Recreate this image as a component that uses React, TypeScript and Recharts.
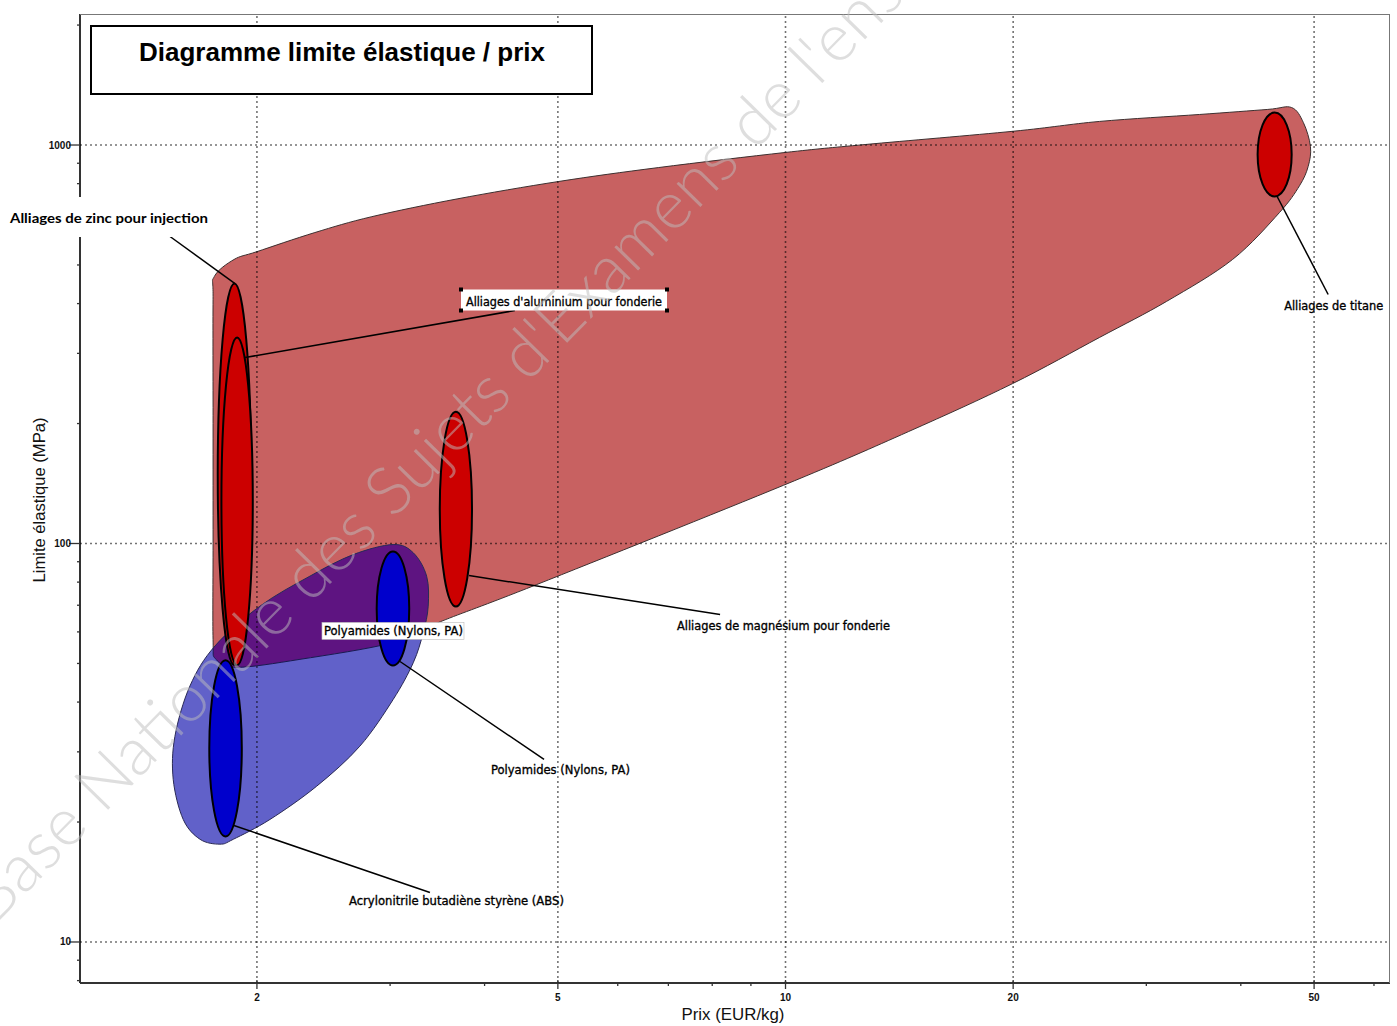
import React from "react";
import { ComposedChart, Scatter, XAxis, YAxis } from "recharts";

const W = 1397;
const H = 1026;

// axes (log-log)
const PRICE_DOMAIN = [1.167, 63];
const YIELD_DOMAIN = [7.89, 2132];
const PRICE_TICKS = [2, 3, 4, 5, 6, 7, 8, 9, 10, 20, 30, 40, 50, 60];
const PRICE_LABELED = [2, 5, 10, 20, 50];
const YIELD_TICKS = [
  8, 9, 10, 20, 30, 40, 50, 60, 70, 80, 90, 100, 200, 300, 400, 500, 600, 700, 800, 900, 1000, 2000,
];
const YIELD_LABELED = [10, 100, 1000];

// family envelopes (outline)
const METAL_PRICE = [
  1.75, 1.75, 1.75, 1.75, 1.757, 1.865, 2.0, 2.386, 2.838, 3.688, 5.013, 6.797, 10.0, 12.76, 20.03, 26.02,
  35.28, 43.35, 46.68, 48.4, 49.45, 49.1, 47.82, 45.0, 39.0, 31.9, 26.02, 19.97, 14.55, 9.94, 4.69, 3.5,
  3.025, 2.28, 1.883, 1.766,
];
const METAL_YIELD = [
  57.4, 100, 200, 410, 468, 516, 540, 603, 661, 733, 810, 878, 958, 1003, 1083, 1146, 1193, 1228, 1242,
  1138, 991, 883, 790, 677, 516, 405, 329, 252, 191, 140, 78.9, 63.7, 56.4, 51.2, 48.9, 51.2,
];
const POLYMER_PRICE = [
  3.028, 3.219, 3.353, 3.369, 3.318, 3.219, 3.028, 2.736, 2.399, 2.081, 1.861, 1.787, 1.682, 1.598, 1.55,
  1.558, 1.631, 1.76, 2.018, 2.35, 2.682,
];
const POLYMER_YIELD = [
  99.4, 94.8, 82.8, 69.6, 59.7, 50.2, 40.6, 31.0, 24.6, 20.3, 18.1, 17.6, 18.1, 20.3, 25.6, 32.8, 43.9,
  55.3, 69.6, 82.8, 93.8,
];

// material bubbles: price range (EUR/kg) and yield strength range (MPa)
const MATERIALS = [
  "Alliages de zinc pour injection",
  "Alliages d'aluminium pour fonderie",
  "Alliages de magnésium pour fonderie",
  "Alliages de titane",
  "Polyamides (Nylons, PA)",
  "Acrylonitrile butadiène styrène (ABS)",
];
const MAT_FAMILY = ["metal", "metal", "metal", "metal", "polymer", "polymer"];
const MAT_PRICE_MIN = [1.775, 1.795, 3.49, 42.1, 2.88, 1.73];
const MAT_PRICE_MAX = [1.965, 1.975, 3.85, 46.7, 3.18, 1.91];
const MAT_YIELD_MIN = [49.5, 49.5, 69.5, 743, 49.4, 18.4];
const MAT_YIELD_MAX = [449, 329, 214, 1206, 95.5, 50.9];

// leader lines: label end -> bubble end
const LEADER_PRICE_A = [1.535, 4.387, 52.19, 8.193, 4.794, 3.387];
const LEADER_YIELD_A = [589.4, 384.3, 421.6, 66.35, 28.71, 13.31];
const LEADER_PRICE_B = [1.871, 1.929, 44.68, 3.815, 3.092, 1.865];
const LEADER_YIELD_B = [449, 292.9, 742.7, 83.1, 50.57, 19.6];

// labels inside the plot (text start, baseline)
const LABEL_TEXT = [
  "Alliages d'aluminium pour fonderie",
  "Alliages de titane",
  "Alliages de magnésium pour fonderie",
  "Polyamides (Nylons, PA)",
  "Polyamides (Nylons, PA)",
  "Acrylonitrile butadiène styrène (ABS)",
];
const LABEL_PRICE = [3.78, 45.64, 7.186, 2.453, 4.078, 2.647];
const LABEL_YIELD = [395.6, 386.5, 60.5, 58.8, 26.33, 12.35];

const GRID_PRICE = [2, 5, 10, 20, 50];
const GRID_YIELD = [10, 100, 1000];

const LABEL_STYLE = [
  { w: 196, box: "handles" },
  { w: 99, box: "" },
  { w: 213, box: "" },
  { w: 139, box: "plain" },
  { w: 139, box: "" },
  { w: 215, box: "" },
];

const RED_ENV = "#c86161";
const BLUE_ENV = "#6161c9";
const PURPLE = "#5e1481";
const RED_BUBBLE = "#cc0000";
const BLUE_BUBBLE = "#0000cc";
const LABEL_FONT = "'DejaVu Sans', Verdana, sans-serif";
const AXIS_FONT = "'Liberation Sans', Arial, sans-serif";

type Pt = { x: number; y: number };

function smoothClosed(pts: Pt[]) {
  const n = pts.length;
  let d = `M${pts[0].x},${pts[0].y}`;
  for (let i = 0; i < n; i++) {
    const p0 = pts[(i - 1 + n) % n];
    const p1 = pts[i];
    const p2 = pts[(i + 1) % n];
    const p3 = pts[(i + 2) % n];
    const c1x = p1.x + (p2.x - p0.x) / 6;
    const c1y = p1.y + (p2.y - p0.y) / 6;
    const c2x = p2.x - (p3.x - p1.x) / 6;
    const c2y = p2.y - (p3.y - p1.y) / 6;
    d += ` C${c1x},${c1y} ${c2x},${c2y} ${p2.x},${p2.y}`;
  }
  return d + " Z";
}

const pairs = (xs: number[], ys: number[]) => xs.map((x, i) => ({ x, y: ys[i] }));

const metalData = pairs(METAL_PRICE, METAL_YIELD);
const polymerData = pairs(POLYMER_PRICE, POLYMER_YIELD);
const labelData = LABEL_TEXT.map((text, i) => ({ x: LABEL_PRICE[i], y: LABEL_YIELD[i], text, i }));

const noDot = () => <g />;

const XTick = (props: any) => {
  const { x, y, payload } = props;
  const major = PRICE_LABELED.includes(payload.value);
  return (
    <g>
      <line x1={x} x2={x} y1={y - (major ? 3 : 0)} y2={y + (major ? 6 : 3)} stroke="#333" strokeWidth={1.3} />
      {major && (
        <text x={x} y={y + 18} textAnchor="middle" fontSize={10} fontWeight="bold" fontFamily={AXIS_FONT} fill="#111">
          {payload.value}
        </text>
      )}
    </g>
  );
};

const YTick = (props: any) => {
  const { x, y, payload } = props;
  const major = YIELD_LABELED.includes(payload.value);
  return (
    <g>
      <line x1={x - (major ? 11 : 3)} x2={x} y1={y} y2={y} stroke="#333" strokeWidth={1.3} />
      {major && (
        <text x={x - 9} y={y + 3.5} textAnchor="end" fontSize={10} fontWeight="bold" fontFamily={AXIS_FONT} fill="#111">
          {payload.value}
        </text>
      )}
    </g>
  );
};

const LabelShape = (props: any) => {
  const { cx, cy, payload } = props;
  const s = LABEL_STYLE[payload.i];
  return (
    <g>
      {s.box === "handles" && (
        <g>
          <rect x={cx - 5} y={cy - 16} width={s.w + 10} height={21} fill="#fff" />
          {[
            [cx - 5, cy - 16],
            [cx + s.w + 5, cy - 16],
            [cx - 5, cy + 5],
            [cx + s.w + 5, cy + 5],
          ].map(([hx, hy], k) => (
            <rect key={k} x={hx - 2} y={hy - 2} width={4} height={4} fill="#000" />
          ))}
        </g>
      )}
      {s.box === "plain" && (
        <rect x={cx - 2} y={cy - 13} width={s.w + 3} height={17} fill="#fff" stroke="#bbb" strokeWidth={0.6} />
      )}
      <text
        x={cx}
        y={cy}
        fontSize={12}
        fontFamily={LABEL_FONT}
        fill="#000"
        stroke="#000"
        strokeWidth={0.35}
        textLength={s.w}
        lengthAdjust="spacingAndGlyphs"
      >
        {payload.text}
      </text>
    </g>
  );
};

const gridLine = (p: any) => (
  <line
    x1={p.points[0].x}
    y1={p.points[0].y}
    x2={p.points[1].x}
    y2={p.points[1].y}
    stroke="#000"
    strokeOpacity={0.55}
    strokeWidth={1.6}
    strokeDasharray="2 3"
  />
);

export default function App() {
  return (
    <div style={{ position: "absolute", left: 0, top: 0, width: W, height: H, background: "#fff", overflow: "hidden" }}>
      <ComposedChart width={W} height={H} margin={{ top: 14, right: 7, bottom: 0, left: 0 }}>
        <XAxis
          type="number"
          dataKey="x"
          scale="log"
          domain={PRICE_DOMAIN}
          allowDataOverflow
          ticks={PRICE_TICKS}
          interval={0}
          tickSize={0}
          tickMargin={0}
          tickLine={false}
          tick={<XTick />}
          axisLine={{ stroke: "#333", strokeWidth: 2 }}
          height={43}
        />
        <YAxis
          type="number"
          dataKey="y"
          scale="log"
          domain={YIELD_DOMAIN}
          allowDataOverflow
          ticks={YIELD_TICKS}
          interval={0}
          tickSize={0}
          tickMargin={0}
          tickLine={false}
          tick={<YTick />}
          axisLine={{ stroke: "#333", strokeWidth: 2 }}
          width={80}
        />

        {/* plot frame (top and right) */}
        <Scatter
          data={[
            { x: PRICE_DOMAIN[0], y: YIELD_DOMAIN[1] },
            { x: PRICE_DOMAIN[1], y: YIELD_DOMAIN[1] },
            { x: PRICE_DOMAIN[1], y: YIELD_DOMAIN[0] },
          ]}
          shape={noDot}
          isAnimationActive={false}
          line={(p: any) => (
            <polyline points={p.points.map((q: Pt) => `${q.x},${q.y}`).join(" ")} fill="none" stroke="#777" strokeWidth={2} />
          )}
        />

        {/* metals envelope */}
        <Scatter
          data={metalData}
          shape={noDot}
          isAnimationActive={false}
          line={(p: any) => {
            const d = smoothClosed(p.points);
            return (
              <g>
                <defs>
                  <path id="metal-env" d={d} />
                </defs>
                <path d={d} fill={RED_ENV} stroke="#3d3030" strokeWidth={1} />
              </g>
            );
          }}
        />

        {/* polymers envelope, purple where it overlaps the metals */}
        <Scatter
          data={polymerData}
          shape={noDot}
          isAnimationActive={false}
          line={(p: any) => {
            const d = smoothClosed(p.points);
            return (
              <g>
                <defs>
                  <clipPath id="poly-clip">
                    <path d={d} />
                  </clipPath>
                </defs>
                <path d={d} fill={BLUE_ENV} />
                <use href="#metal-env" fill={PURPLE} clipPath="url(#poly-clip)" />
                <use href="#metal-env" fill="none" stroke="#1a1a50" strokeWidth={1} clipPath="url(#poly-clip)" />
                <path d={d} fill="none" stroke="#2a2a55" strokeWidth={1} />
              </g>
            );
          }}
        />

        {/* dotted grid on major decades */}
        {GRID_PRICE.map((v) => (
          <Scatter
            key={`gx${v}`}
            data={[
              { x: v, y: YIELD_DOMAIN[0] },
              { x: v, y: YIELD_DOMAIN[1] },
            ]}
            shape={noDot}
            isAnimationActive={false}
            line={gridLine}
          />
        ))}
        {GRID_YIELD.map((v) => (
          <Scatter
            key={`gy${v}`}
            data={[
              { x: PRICE_DOMAIN[0], y: v },
              { x: PRICE_DOMAIN[1], y: v },
            ]}
            shape={noDot}
            isAnimationActive={false}
            line={gridLine}
          />
        ))}

        {/* material bubbles */}
        {MATERIALS.map((name, i) => (
          <Scatter
            key={name + i}
            name={name}
            data={[
              { x: MAT_PRICE_MIN[i], y: MAT_YIELD_MIN[i] },
              { x: MAT_PRICE_MAX[i], y: MAT_YIELD_MAX[i] },
            ]}
            shape={noDot}
            isAnimationActive={false}
            line={(p: any) => {
              const [a, b] = p.points;
              return (
                <ellipse
                  cx={(a.x + b.x) / 2}
                  cy={(a.y + b.y) / 2}
                  rx={Math.abs(b.x - a.x) / 2}
                  ry={Math.abs(b.y - a.y) / 2}
                  fill={MAT_FAMILY[i] === "metal" ? RED_BUBBLE : BLUE_BUBBLE}
                  stroke="#000"
                  strokeWidth={2}
                />
              );
            }}
          />
        ))}

        {/* leader lines */}
        {LEADER_PRICE_A.map((x, i) => (
          <Scatter
            key={`ld${i}`}
            data={[
              { x, y: LEADER_YIELD_A[i] },
              { x: LEADER_PRICE_B[i], y: LEADER_YIELD_B[i] },
            ]}
            shape={noDot}
            isAnimationActive={false}
            line={(p: any) => (
              <line
                x1={p.points[0].x}
                y1={p.points[0].y}
                x2={p.points[1].x}
                y2={p.points[1].y}
                stroke="#000"
                strokeWidth={1.5}
              />
            )}
          />
        ))}

        {/* labels */}
        <Scatter data={labelData} shape={(p: any) => <LabelShape {...p} />} isAnimationActive={false} />
      </ComposedChart>

      <svg width={W} height={H} style={{ position: "absolute", left: 0, top: 0, pointerEvents: "none" }}>
        {/* zinc label sits outside the plot */}
        <rect x={0} y={197} width={215} height={40} fill="#fff" />
        <text
          x={10}
          y={223}
          fontSize={13}
          fontWeight="bold"
          fontFamily="Lato, 'Open Sans', sans-serif"
          fill="#000"
          textLength={198}
          lengthAdjust="spacingAndGlyphs"
        >
          Alliages de zinc pour injection
        </text>

        {/* title box */}
        <rect x={91} y={26} width={501} height={68} fill="#fff" stroke="#000" strokeWidth={2} />
        <text x={342} y={61} textAnchor="middle" fontSize={26} fontWeight="bold" fontFamily={AXIS_FONT} fill="#000">
          Diagramme limite élastique / prix
        </text>

        {/* axis titles */}
        <text
          transform="translate(45,500) rotate(-90)"
          textAnchor="middle"
          fontSize={17}
          fontFamily={AXIS_FONT}
          fill="#111"
          textLength={165}
          lengthAdjust="spacingAndGlyphs"
        >
          Limite élastique (MPa)
        </text>
        <text
          x={733}
          y={1020}
          textAnchor="middle"
          fontSize={17}
          fontFamily={AXIS_FONT}
          fill="#111"
          textLength={103}
          lengthAdjust="spacingAndGlyphs"
        >
          Prix (EUR/kg)
        </text>

        {/* watermark, running off the picture as in the original */}
        <text
          transform="translate(-6,926) rotate(-45.5)"
          fontSize={67}
          fontWeight={300}
          fontFamily="Lato, 'Open Sans', sans-serif"
          fill="#bdbdbd"
          fillOpacity={0.5}
        >
          Base Nationale des Sujets d'Examens de l'enseignement
        </text>
      </svg>
    </div>
  );
}
